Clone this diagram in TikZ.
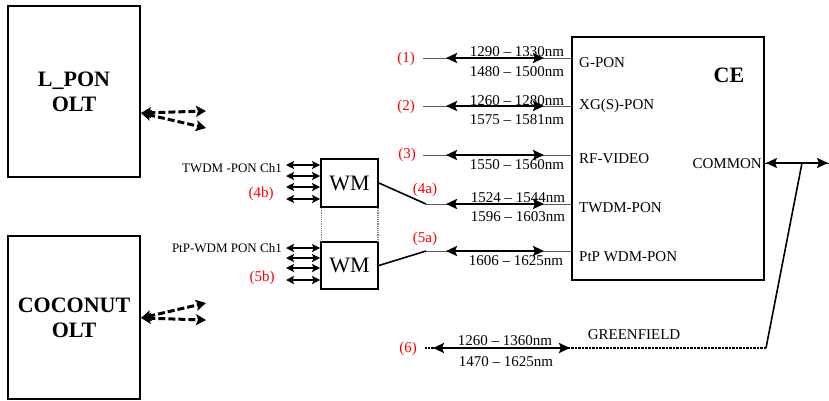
\documentclass[tikz,border=0pt]{standalone}
\usepackage{fontspec}
\setmainfont{Liberation Serif}
\usetikzlibrary{arrows.meta}
\begin{document}
\begin{tikzpicture}[x=1pt,y=-1pt,
  box/.style={draw, line width=1.8pt, inner sep=0pt, align=center},
  olt/.style={box, minimum width=132pt, font=\fontsize{22}{25}\selectfont\bfseries},
  wm/.style={box, minimum width=57pt, font=\fontsize{22}{22}\selectfont},
  lbl/.style={inner sep=0pt, font=\fontsize{15}{15}\selectfont},
  slbl/.style={inner sep=0pt, font=\fontsize{13}{13}\selectfont},
  red lbl/.style={lbl, text=red},
  thinl/.style={draw=black!65, line width=1pt},
  dbl/.style={line width=2.3pt, {Stealth[length=11pt,width=10pt,inset=2pt]}-{Stealth[length=11pt,width=10pt,inset=2pt]}},
  sdbl/.style={line width=1.9pt, {Stealth[length=8pt,width=8pt,inset=1.5pt]}-{Stealth[length=8pt,width=8pt,inset=1.5pt]}},
  dashdbl/.style={line width=3pt, dash pattern=on 7pt off 3pt, {Stealth[length=10pt,width=11pt,inset=2pt]}-{Stealth[length=10pt,width=11pt,inset=2pt]}},
  wire/.style={line width=1.6pt}
]
\useasboundingbox (0,0) rectangle (829,400);

% OLT boxes
\node[olt, minimum height=171pt] (lpon) at (74,91.5) {L\_PON\\OLT};
\node[olt, minimum height=163pt] (coco) at (74,317.5) {COCONUT\\OLT};

% dashed arrows from OLTs
\coordinate (lp0) at (141,113);
\coordinate (lp1) at (206,111);
\coordinate (lp2) at (206,128);
\draw[dashdbl] (lp0) -- (lp1);
\draw[dashdbl] (lp0) -- (lp2);
\coordinate (co0) at (141,318);
\coordinate (co1) at (206,303);
\coordinate (co2) at (206,320);
\draw[dashdbl] (co0) -- (co1);
\draw[dashdbl] (co0) -- (co2);

% WM boxes
\node[wm, minimum height=48pt] (wm1) at (349.5,183) {WM};
\node[wm, minimum height=47pt] (wm2) at (349.5,265.5) {WM};
\draw[black!50, line width=1.2pt, densely dotted] (wm1.south west) ++(1,0) coordinate (d1) -- (d1 |- wm2.north);
\draw[black!50, line width=1.2pt, densely dotted] (wm1.south east) ++(-1,0) coordinate (d2) -- (d2 |- wm2.north);

% WM input arrows
\foreach \y [count=\i] in {165,176,187,199}{
  \coordinate (ua\i) at (286,\y);
  \draw[sdbl] (ua\i) -- (wm1.west |- ua\i);
}
\foreach \y [count=\i] in {248,258,268,280}{
  \coordinate (la\i) at (286,\y);
  \draw[sdbl] (la\i) -- (wm2.west |- la\i);
}
\node[slbl, anchor=east] (twch) at (282,168) {TWDM -PON Ch1};
\node[slbl, anchor=east] (ptch) at (282,248) {PtP-WDM PON Ch1};
\node[red lbl] (l4b) at (261,194) {(4b)};
\node[red lbl] (l5b) at (262,278) {(5b)};

% CE box
\node[box, minimum width=192pt, minimum height=243pt] (ce) at (668,158.5) {};
\node[inner sep=0pt, font=\fontsize{22}{22}\selectfont\bfseries] (cet) at (729,75) {CE};
\node[lbl, anchor=west] (p1) at (579,63) {G-PON};
\node[lbl, anchor=west] (p2) at (579,106) {XG(S)-PON};
\node[lbl, anchor=west] (p3) at (579,159) {RF-VIDEO};
\node[lbl, anchor=west] (p4) at (579,208) {TWDM-PON};
\node[lbl, anchor=west] (p5) at (579,257) {PtP WDM-PON};
\node[lbl, anchor=east] (com) at (762,164) {COMMON};

% port lines
\coordinate (s1) at (423,58);
\coordinate (s2) at (423,106);
\coordinate (s3) at (423,155);
\coordinate (s4) at (426,204);
\coordinate (s5) at (426,251);
\foreach \i in {1,...,5}{
  \draw[thinl] (s\i) -- (ce.west |- s\i);
}
\foreach \i/\y in {1/58,2/106,3/155,4/204,5/251}{
  \coordinate (al\i) at (446,\y);
  \coordinate (ar\i) at (544,\y);
  \draw[dbl] (al\i) -- (ar\i);
}
% WM to CE
\draw[wire] (wm1.east) -- (s4);
\draw[wire] (wm2.east) -- (s5);

% wavelength labels
\node[lbl] (w1a) at (517,52) {1290 -- 1330nm};
\node[lbl] (w1b) at (517,72) {1480 -- 1500nm};
\node[lbl] (w2a) at (517,101) {1260 -- 1280nm};
\node[lbl] (w2b) at (517,120) {1575 -- 1581nm};
\node[lbl] (w3b) at (517,165) {1550 -- 1560nm};
\node[lbl] (w4a) at (518,198) {1524 -- 1544nm};
\node[lbl] (w4b) at (518,217) {1596 -- 1603nm};
\node[lbl] (w5b) at (516,261) {1606 -- 1625nm};

% red labels
\node[red lbl] (r1) at (406,59) {(1)};
\node[red lbl] (r2) at (406,107) {(2)};
\node[red lbl] (r3) at (407,155) {(3)};
\node[red lbl] (r4a) at (425,190) {(4a)};
\node[red lbl] (r5a) at (425,239) {(5a)};
\node[red lbl] (r6) at (408,349) {(6)};

% common
\coordinate (cend) at (829,163);
\coordinate (cl) at (766,163);
\coordinate (cr) at (828,163);
\coordinate (junc) at (802,163);
\draw[line width=1pt] (ce.east |- cend) -- (cend);
\draw[dbl, line width=1.8pt] (cl) -- (cr);

% greenfield
\coordinate (gc) at (766,348);
\coordinate (g6) at (425,348);
\coordinate (gl) at (433,348);
\coordinate (gr) at (570,348);
\draw[wire] (junc) -- (gc);
\draw[line width=1.4pt, dash pattern=on 2.5pt off 1pt] (gc) -- (g6);
\draw[dbl] (gl) -- (gr);
\node[lbl] (gf) at (634,335) {GREENFIELD};
\node[lbl] (w6a) at (505,341) {1260 -- 1360nm};
\node[lbl] (w6b) at (506,362) {1470 -- 1625nm};
\end{tikzpicture}
\end{document}
